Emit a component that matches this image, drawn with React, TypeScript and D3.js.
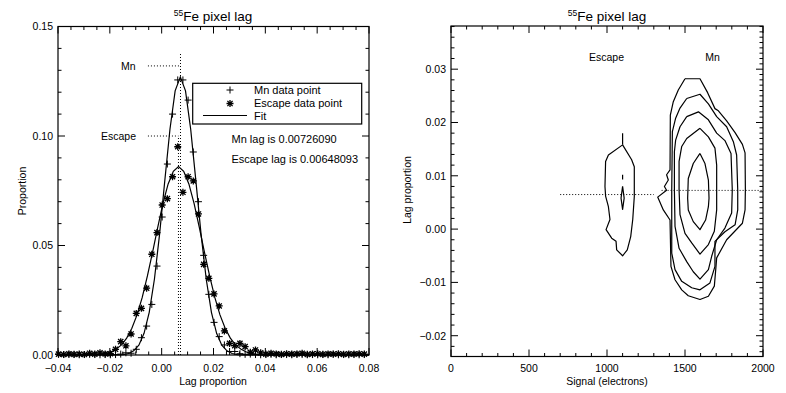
import React, { useEffect, useRef } from 'react';
import * as d3 from 'd3';

// ---- left panel: histogram of pixel lag ----
const lagBins = [
  -0.0398, -0.0378, -0.0358, -0.0338, -0.0318, -0.0298, -0.0278, -0.0258, -0.0238, -0.0218,
  -0.0198, -0.0178, -0.0158, -0.0138, -0.0118, -0.0098, -0.0078, -0.0058, -0.0038, -0.0018,
  0.0002, 0.0022, 0.0042, 0.0062, 0.0082, 0.0102, 0.0122, 0.0142, 0.0162, 0.0182,
  0.0202, 0.0222, 0.0242, 0.0262, 0.0282, 0.0302, 0.0322, 0.0342, 0.0362, 0.0382,
  0.0402, 0.0422, 0.0442, 0.0462, 0.0482, 0.0502, 0.0522, 0.0542, 0.0562, 0.0582,
  0.0602, 0.0622, 0.0642, 0.0662, 0.0682, 0.0702, 0.0722, 0.0742, 0.0762, 0.0782
];
const mnCounts = [
  0.0003, 0.0002, 0.0003, 0.0002, 0.0001, 0.0002, 0.0003, 0.0002, 0.0001, 0.0002,
  0.0001, 0.0002, 0.0004, 0.0010, 0.0008, 0.0026, 0.0079, 0.0132, 0.0231, 0.0406,
  0.0630, 0.0872, 0.1100, 0.1256, 0.1256, 0.1164, 0.0927, 0.0700, 0.0455, 0.0277,
  0.0149, 0.0084, 0.0046, 0.0016, 0.0016, 0.0006, 0.0003, 0.0004, 0.0002, 0.0001,
  0.0002, 0.0003, 0.0001, 0.0002, 0.0002, 0.0001, 0.0003, 0.0002, 0.0001, 0.0002,
  0.0001, 0.0002, 0.0001, 0.0003, 0.0001, 0.0002, 0.0001, 0.0002, 0.0001, 0.0002
];
const escapeCounts = [
  0.0004, 0.0002, 0.0005, 0.0003, 0.0004, 0.0002, 0.0008, 0.0004, 0.0010, 0.0005,
  0.0006, 0.0026, 0.0061, 0.0042, 0.0096, 0.0190, 0.0213, 0.0305, 0.0460, 0.0559,
  0.0685, 0.0714, 0.0814, 0.0951, 0.0743, 0.0814, 0.0795, 0.0644, 0.0414, 0.0350,
  0.0279, 0.0224, 0.0110, 0.0053, 0.0043, 0.0053, 0.0038, 0.0012, 0.0023, 0.0010,
  0.0004, 0.0008, 0.0005, 0.0003, 0.0006, 0.0004, 0.0005, 0.0008, 0.0003, 0.0005,
  0.0006, 0.0003, 0.0005, 0.0004, 0.0006, 0.0003, 0.0005, 0.0004, 0.0006, 0.0004
];

// gaussian fits, sampled
const mnFitX = [
  -0.04, -0.0168, -0.0148, -0.0128, -0.0108, -0.0088, -0.0068, -0.0048, -0.0028, -0.0008,
  0.0012, 0.0032, 0.0052, 0.0072, 0.0092, 0.0112, 0.0132, 0.0152, 0.0172, 0.0192,
  0.0212, 0.0232, 0.0252, 0.0272, 0.0292, 0.0312, 0.08
];
const mnFitY = [
  0, 0.0001, 0.0002, 0.0007, 0.0019, 0.0045, 0.0099, 0.0195, 0.0346, 0.0552,
  0.0795, 0.1031, 0.1206, 0.1270, 0.1206, 0.1031, 0.0795, 0.0552, 0.0346, 0.0195,
  0.0099, 0.0045, 0.0019, 0.0007, 0.0002, 0.0001, 0
];
const escapeFitX = [
  -0.04, -0.0275, -0.0255, -0.0235, -0.0215, -0.0195, -0.0175, -0.0155, -0.0135, -0.0115,
  -0.0095, -0.0075, -0.0055, -0.0035, -0.0015, 0.0005, 0.0025, 0.0045, 0.0065, 0.0085,
  0.0105, 0.0125, 0.0145, 0.0165, 0.0185, 0.0205, 0.0225, 0.0245, 0.0265, 0.0285,
  0.0305, 0.0325, 0.0345, 0.0365, 0.0385, 0.0405, 0.08
];
const escapeFitY = [
  0, 0.0001, 0.0002, 0.0004, 0.0008, 0.0015, 0.0027, 0.0046, 0.0077, 0.0122,
  0.0183, 0.0263, 0.0361, 0.0470, 0.0584, 0.0692, 0.0781, 0.0839, 0.0860, 0.0839,
  0.0781, 0.0692, 0.0584, 0.0470, 0.0361, 0.0263, 0.0183, 0.0122, 0.0077, 0.0046,
  0.0027, 0.0015, 0.0008, 0.0004, 0.0002, 0.0001, 0
];

const mnLag = 0.0072609;
const escapeLag = 0.00648093;

const lagTicks = [-0.04, -0.02, 0.0, 0.02, 0.04, 0.06, 0.08];
const lagTickLabels = ['\u22120.04', '\u22120.02', '0.00', '0.02', '0.04', '0.06', '0.08'];
const propTicks = [0, 0.05, 0.1, 0.15];
const propTickLabels = ['0.00', '0.05', '0.10', '0.15'];

// ---- right panel: contours of lag vs signal ----
const signalTicks = [0, 500, 1000, 1500, 2000];
const signalTickLabels = ['0', '500', '1000', '1500', '2000'];
const lagPropTicks = [-0.02, -0.01, 0, 0.01, 0.02, 0.03];
const lagPropTickLabels = ['\u22120.02', '\u22120.01', '0.00', '0.01', '0.02', '0.03'];

const escapeOuter: [number, number][] = [
  [1100, 0.0158], [1158, 0.0130], [1175, 0.0117], [1175, 0.0061], [1165, 0.0018],
  [1152, -0.0014], [1130, -0.0039], [1100, -0.0050], [1062, -0.0039], [1058, -0.0023],
  [1030, -0.0017], [994, -0.0001], [1019, 0.0018], [1009, 0.0042], [991, 0.0062],
  [987, 0.0080], [991, 0.0127], [1009, 0.0139], [1100, 0.0158]
];
const escapeSpike: [number, number][] = [[1100, 0.0158], [1100, 0.0180]];
const escapeDash: [number, number][] = [[1100, 0.0102], [1100, 0.0093]];
const escapeInner: [number, number][] = [
  [1100, 0.0080], [1110, 0.0058], [1100, 0.0037], [1090, 0.0058], [1100, 0.0080]
];
const mnContour1: [number, number][] = [
  [1500, 0.0282], [1596, 0.0282], [1645, 0.0256], [1692, 0.0226], [1714, 0.0222],
  [1767, 0.0203], [1821, 0.0181], [1868, 0.0159], [1885, 0.0143], [1887, 0.0074],
  [1885, 0.0036], [1868, 0.0011], [1767, -0.0020], [1703, -0.0054], [1697, -0.0076],
  [1688, -0.0107], [1650, -0.0126], [1596, -0.0132], [1521, -0.0125], [1479, -0.0114],
  [1436, -0.0095], [1410, -0.0070], [1404, 0.0017], [1361, 0.0036], [1325, 0.0060],
  [1382, 0.0073], [1368, 0.0080], [1393, 0.0092], [1382, 0.0102], [1404, 0.0111],
  [1406, 0.0214], [1425, 0.0239], [1457, 0.0261], [1500, 0.0282]
];
const mnContour2: [number, number][] = [
  [1511, 0.0245], [1596, 0.0253], [1650, 0.0235], [1703, 0.0211], [1767, 0.0192],
  [1810, 0.0164], [1831, 0.0139], [1838, 0.0074], [1838, 0.0036], [1821, 0.0008],
  [1756, -0.0005], [1692, -0.0023], [1692, -0.0070], [1660, -0.0101], [1596, -0.0114],
  [1543, -0.0110], [1479, -0.0098], [1436, -0.0076], [1415, -0.0045], [1415, 0.0074],
  [1419, 0.0183], [1440, 0.0208], [1468, 0.0227], [1511, 0.0245]
];
const mnContour3: [number, number][] = [
  [1511, 0.0211], [1586, 0.0220], [1650, 0.0205], [1703, 0.0180], [1756, 0.0166],
  [1795, 0.0142], [1803, 0.0074], [1799, 0.0030], [1756, 0.0002], [1703, -0.0020],
  [1671, -0.0051], [1650, -0.0076], [1596, -0.0094], [1553, -0.0080], [1511, -0.0061],
  [1462, -0.0036], [1436, 0.0005], [1432, 0.0074], [1432, 0.0145], [1440, 0.0167],
  [1468, 0.0192], [1511, 0.0211]
];
const mnContour4: [number, number][] = [
  [1596, 0.0189], [1650, 0.0173], [1692, 0.0152], [1703, 0.0120], [1703, 0.0036],
  [1688, -0.0004], [1650, -0.0029], [1596, -0.0047], [1543, -0.0026], [1500, -0.0008],
  [1468, 0.0027], [1462, 0.0074], [1462, 0.0127], [1479, 0.0155], [1511, 0.0170],
  [1596, 0.0189]
];
const mnContour5: [number, number][] = [
  [1596, 0.0142], [1628, 0.0123], [1650, 0.0092], [1654, 0.0058], [1650, 0.0042],
  [1632, 0.0017], [1596, -0.0001], [1553, 0.0014], [1521, 0.0036], [1517, 0.0058],
  [1521, 0.0095], [1553, 0.0123], [1596, 0.0142]
];

const FONT = 'Liberation Sans, Arial, sans-serif';

function frame(g, x, y, xMinor, yMinorL, yMinorR) {
  const [x0, x1] = x.range();
  const [y0, y1] = y.range();
  g.append('rect')
    .attr('x', x0).attr('y', y1)
    .attr('width', x1 - x0).attr('height', y0 - y1)
    .attr('fill', 'none').attr('stroke', '#000').attr('stroke-width', 1.2);
  const t = g.append('g').attr('stroke', '#000').attr('stroke-width', 1);
  xMinor.forEach(v => {
    const major = Math.abs(v / xMinor.step - Math.round(v / xMinor.step)) < 1e-6 && xMinor.majors.some(m => Math.abs(m - v) < 1e-9);
    const len = major ? 7 : 3.5;
    t.append('line').attr('x1', x(v)).attr('x2', x(v)).attr('y1', y0).attr('y2', y0 - len);
    t.append('line').attr('x1', x(v)).attr('x2', x(v)).attr('y1', y1).attr('y2', y1 + len);
  });
  yMinorL.forEach(v => {
    const major = yMinorL.majors.some(m => Math.abs(m - v) < 1e-9);
    const len = major ? 7 : 3.5;
    t.append('line').attr('y1', y(v)).attr('y2', y(v)).attr('x1', x0).attr('x2', x0 + len);
  });
  yMinorR.forEach(v => {
    const major = yMinorR.majors.some(m => Math.abs(m - v) < 1e-9);
    const len = major ? 7 : 3.5;
    t.append('line').attr('y1', y(v)).attr('y2', y(v)).attr('x1', x1).attr('x2', x1 - len);
  });
}

function tickSet(lo, hi, step, majors) {
  const n = Math.round((hi - lo) / step);
  const arr: any = d3.range(n + 1).map(i => +(lo + i * step).toFixed(6));
  arr.majors = majors;
  arr.step = step;
  return arr;
}

function plus(g, cx, cy) {
  g.append('path')
    .attr('d', `M${cx - 3.5},${cy}H${cx + 3.5}M${cx},${cy - 3.5}V${cy + 3.5}`)
    .attr('stroke', '#000').attr('stroke-width', 1).attr('fill', 'none');
}

function star(g, cx, cy) {
  const r = 3.5, d = 2.6;
  g.append('path')
    .attr('d', `M${cx - r},${cy}H${cx + r}M${cx},${cy - r}V${cy + r}` +
      `M${cx - d},${cy - d}L${cx + d},${cy + d}M${cx - d},${cy + d}L${cx + d},${cy - d}`)
    .attr('stroke', '#000').attr('stroke-width', 1.3).attr('fill', 'none');
}

function title(g, cx) {
  const tx = g.append('text')
    .attr('x', cx).attr('y', 20.5)
    .attr('text-anchor', 'middle')
    .style('font-family', FONT).style('font-size', '13.5px');
  tx.append('tspan').attr('font-size', '8.5px').attr('dy', -4.5).text('55');
  tx.append('tspan').attr('dy', 4.5).text('Fe pixel lag');
}

export default function App() {
  const ref = useRef<SVGSVGElement>(null);

  useEffect(() => {
    const svg = d3.select(ref.current);
    svg.selectAll('*').remove();

    svg.append('rect').attr('width', 786).attr('height', 393).attr('fill', '#fff');

    // ================= left panel =================
    const xL = d3.scaleLinear().domain([-0.04, 0.08]).range([58, 369]);
    const yL = d3.scaleLinear().domain([0, 0.15]).range([355, 26.5]);
    const gL = svg.append('g');

    frame(gL, xL,
      yL,
      tickSet(-0.04, 0.08, 0.005, lagTicks),
      tickSet(0, 0.15, 0.01, propTicks),
      tickSet(0, 0.15, 0.01, propTicks));

    gL.selectAll('.xl').data(lagTicks).enter().append('text')
      .attr('x', d => xL(d)).attr('y', 372)
      .attr('text-anchor', 'middle')
      .style('font-family', FONT).style('font-size', '10.5px')
      .text((d, i) => lagTickLabels[i]);
    gL.selectAll('.yl').data(propTicks).enter().append('text')
      .attr('x', 53).attr('y', d => yL(d) + 3.8)
      .attr('text-anchor', 'end')
      .style('font-family', FONT).style('font-size', '10.5px')
      .text((d, i) => propTickLabels[i]);

    title(gL, 213);
    gL.append('text').attr('x', 213).attr('y', 385)
      .attr('text-anchor', 'middle')
      .style('font-family', FONT).style('font-size', '10.5px')
      .text('Lag proportion');
    gL.append('text')
      .attr('transform', 'translate(25.5,191) rotate(-90)')
      .attr('text-anchor', 'middle')
      .style('font-family', FONT).style('font-size', '10.5px')
      .text('Proportion');

    // dotted guide lines
    const dots = gL.append('g').attr('stroke', '#000').attr('stroke-width', 1)
      .attr('stroke-dasharray', '1,2').attr('fill', 'none');
    dots.append('line')
      .attr('x1', xL(mnLag)).attr('x2', xL(mnLag))
      .attr('y1', yL(0)).attr('y2', yL(0.138));
    dots.append('line')
      .attr('x1', xL(escapeLag)).attr('x2', xL(escapeLag))
      .attr('y1', yL(0)).attr('y2', yL(0.1));
    dots.append('line')
      .attr('x1', xL(-0.0053)).attr('x2', xL(mnLag))
      .attr('y1', yL(0.132)).attr('y2', yL(0.132));
    dots.append('line')
      .attr('x1', xL(-0.0053)).attr('x2', xL(escapeLag))
      .attr('y1', yL(0.1)).attr('y2', yL(0.1));

    gL.append('text').attr('x', 135.5).attr('y', yL(0.132) + 3.8)
      .attr('text-anchor', 'end')
      .style('font-family', FONT).style('font-size', '10.5px').text('Mn');
    gL.append('text').attr('x', 136).attr('y', yL(0.1) + 3.8)
      .attr('text-anchor', 'end')
      .style('font-family', FONT).style('font-size', '10.5px').text('Escape');

    // fits
    const lineL = d3.line<[number, number]>().x(d => xL(d[0])).y(d => yL(d[1]));
    gL.append('path')
      .attr('d', lineL(mnFitX.map((v, i) => [v, mnFitY[i]] as [number, number])))
      .attr('fill', 'none').attr('stroke', '#000').attr('stroke-width', 1.2);
    gL.append('path')
      .attr('d', lineL(escapeFitX.map((v, i) => [v, escapeFitY[i]] as [number, number])))
      .attr('fill', 'none').attr('stroke', '#000').attr('stroke-width', 1.2);

    // data points
    const pts = gL.append('g');
    lagBins.forEach((b, i) => plus(pts, xL(b), yL(mnCounts[i])));
    lagBins.forEach((b, i) => star(pts, xL(b), yL(escapeCounts[i])));

    // legend
    const leg = gL.append('g');
    leg.append('rect').attr('x', 192.7).attr('y', 83.3).attr('width', 169).attr('height', 40.7)
      .attr('fill', '#fff').attr('stroke', '#000').attr('stroke-width', 1.2);
    plus(leg, 230, 90);
    star(leg, 230, 103.5);
    leg.append('line').attr('x1', 203).attr('x2', 247).attr('y1', 115.5).attr('y2', 115.5)
      .attr('stroke', '#000').attr('stroke-width', 1.2);
    const legText = ['Mn data point', 'Escape data point', 'Fit'];
    legText.forEach((s, i) => {
      leg.append('text').attr('x', 254).attr('y', 94 + i * 13)
        .style('font-family', FONT).style('font-size', '11px').text(s);
    });

    gL.append('text').attr('x', 231.5).attr('y', 143.3)
      .style('font-family', FONT).style('font-size', '11px')
      .text('Mn lag is 0.00726090');
    gL.append('text').attr('x', 231.5).attr('y', 163.3)
      .style('font-family', FONT).style('font-size', '11px')
      .text('Escape lag is 0.00648093');

    // ================= right panel =================
    const xR = d3.scaleLinear().domain([0, 2000]).range([451, 763]);
    const yR = d3.scaleLinear().domain([-0.0239, 0.0381]).range([356.5, 26]);
    const gR = svg.append('g');

    frame(gR, xR, yR,
      tickSet(0, 2000, 100, signalTicks),
      tickSet(-0.022, 0.038, 0.002, lagPropTicks),
      tickSet(-0.023, 0.038, 0.001, lagPropTicks));

    gR.selectAll('.xr').data(signalTicks).enter().append('text')
      .attr('x', d => xR(d)).attr('y', 372)
      .attr('text-anchor', 'middle')
      .style('font-family', FONT).style('font-size', '10.5px')
      .text((d, i) => signalTickLabels[i]);
    gR.selectAll('.yr').data(lagPropTicks).enter().append('text')
      .attr('x', 446).attr('y', d => yR(d) + 3.8)
      .attr('text-anchor', 'end')
      .style('font-family', FONT).style('font-size', '10.5px')
      .text((d, i) => lagPropTickLabels[i]);

    title(gR, 607);
    gR.append('text').attr('x', 607).attr('y', 385)
      .attr('text-anchor', 'middle')
      .style('font-family', FONT).style('font-size', '10.5px')
      .text('Signal (electrons)');
    gR.append('text')
      .attr('transform', 'translate(411,190) rotate(-90)')
      .attr('text-anchor', 'middle')
      .style('font-family', FONT).style('font-size', '10.5px')
      .text('Lag proportion');

    gR.append('text').attr('x', 606.5).attr('y', 60.5).attr('text-anchor', 'middle')
      .style('font-family', FONT).style('font-size', '10.5px').text('Escape');
    gR.append('text').attr('x', 712.5).attr('y', 60.5).attr('text-anchor', 'middle')
      .style('font-family', FONT).style('font-size', '10.5px').text('Mn');

    const dotsR = gR.append('g').attr('stroke', '#000').attr('stroke-width', 1)
      .attr('stroke-dasharray', '1,2').attr('fill', 'none');
    dotsR.append('line')
      .attr('x1', xR(700)).attr('x2', xR(1300))
      .attr('y1', yR(escapeLag)).attr('y2', yR(escapeLag));
    dotsR.append('line')
      .attr('x1', xR(1350)).attr('x2', xR(2000))
      .attr('y1', yR(mnLag)).attr('y2', yR(mnLag));

    const lineR = d3.line<[number, number]>().x(d => xR(d[0])).y(d => yR(d[1]));
    const contours = [escapeOuter, escapeSpike, escapeDash, escapeInner,
      mnContour1, mnContour2, mnContour3, mnContour4, mnContour5];
    gR.selectAll('.contour').data(contours).enter().append('path')
      .attr('class', 'contour')
      .attr('d', d => lineR(d))
      .attr('fill', 'none').attr('stroke', '#000').attr('stroke-width', 1.2)
      .attr('stroke-linejoin', 'round');
  }, []);

  return (
    <svg ref={ref} width={786} height={393}
      style={{ position: 'absolute', left: 0, top: 0, display: 'block' }} />
  );
}
